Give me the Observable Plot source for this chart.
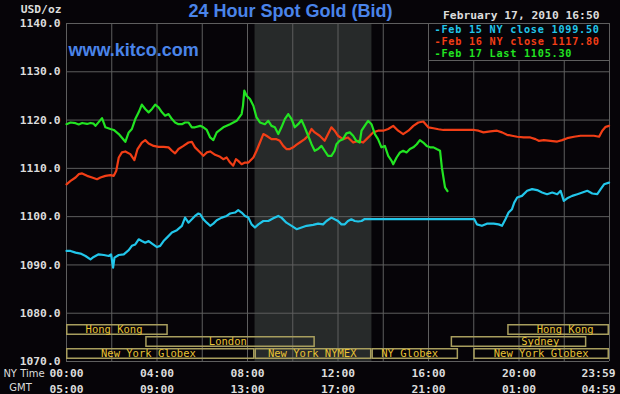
<!DOCTYPE html>
<html><head><meta charset="utf-8">
<script src="https://cdn.jsdelivr.net/npm/d3@7"></script>
<script src="https://cdn.jsdelivr.net/npm/@observablehq/plot@0.6"></script>
<style>
html,body{margin:0;padding:0;background:#060408;}
#wrap{position:relative;width:620px;height:394px;overflow:hidden;}
#wrap svg{position:absolute;left:0;top:0;max-width:none;}
#legend{position:absolute;left:428px;top:24px;width:180px;height:36px;background:#060408;border-left:1px solid #5e5e5e;border-bottom:1px solid #5e5e5e;font:bold 10.2px "DejaVu Sans Mono",monospace;letter-spacing:0.75px;line-height:11px;}
#legend .lg{position:absolute;left:5.5px;white-space:pre;height:11px;line-height:11px;}
</style></head><body><div id="wrap"></div>
<script>
// ---- data ----
const priceTicks = [1070,1080,1090,1100,1110,1120,1130,1140];
const gridHours = [0,2,4,6,8,10,12,14,16,18,20,22,24];
const labelHours = [0,4,8,12,16,20];
const nyLabels = ["00:00","04:00","08:00","12:00","16:00","20:00"];
const gmtLabels = ["05:00","09:00","13:00","17:00","21:00","01:00"];
const endHour = [24];
const endNyLabel = ["23:59"];
const endGmtLabel = ["04:59"];
const nymexHours = [8.333, 13.5];

const seriesNames = ["Feb 15 NY close 1099.50","Feb 16 NY close 1117.80","Feb 17 Last 1105.30"];
const seriesColors = ["#22c6ea","#f23e16","#22e422"];

const feb15 = [[0,1092.9],[0.18,1092.9],[0.40,1092.55],[0.62,1092.35],[0.84,1091.85],[1.06,1091.15],[1.20,1091.65],[1.42,1092.2],[1.65,1092.05],[1.87,1091.85],
[1.97,1092.2],[2.06,1089.45],[2.12,1091.5],[2.31,1092.05],[2.53,1092.2],[2.75,1093.05],[2.89,1093.95],[3.04,1094.25],[3.19,1095.3],[3.33,1094.95],
[3.48,1094.6],[3.63,1094.95],[3.78,1094.4],[4.00,1093.7],[4.14,1093.95],[4.29,1094.95],[4.44,1095.65],[4.66,1096.7],[4.88,1097.2],[5.10,1098.1],
[5.24,1099.8],[5.39,1098.75],[5.54,1099.45],[5.68,1100.15],[5.83,1100.65],[5.91,1100.5],[6.05,1099.45],[6.20,1098.75],[6.35,1098.1],[6.49,1098.55],
[6.64,1099.25],[6.86,1099.8],[7.08,1100.15],[7.23,1100.65],[7.45,1100.85],[7.59,1101.35],[7.74,1100.85],[7.89,1100.15],[8.04,1099.8],[8.18,1098.4],
[8.33,1097.75],[8.48,1098.4],[8.70,1099.1],[8.92,1099.1],[9.14,1099.65],[9.36,1100.15],[9.50,1099.8],[9.72,1098.75],[9.95,1098.1],[10.17,1097.4],
[10.39,1097.75],[10.61,1098.1],[10.90,1098.3],[11.12,1098.55],[11.34,1098.4],[11.49,1099.1],[11.71,1099.8],[11.85,1099.45],[12.00,1099.1],[12.15,1098.4],
[12.30,1098.4],[12.44,1099.1],[12.59,1099.45],[12.74,1099.1],[12.89,1099.0],[13.04,1099.1],[13.18,1099.5],[18.02,1099.5],[18.14,1098.4],[18.36,1098.1],
[18.58,1098.55],[18.88,1098.55],[19.10,1098.4],[19.25,1098.1],[19.40,1099.45],[19.54,1100.85],[19.69,1101.55],[19.79,1102.9],[19.92,1103.95],[20.13,1104.3],
[20.36,1105.35],[20.58,1105.7],[20.80,1105.5],[21.02,1105.0],[21.24,1104.65],[21.47,1105.0],[21.69,1104.65],[21.84,1105.35],[21.98,1103.25],[22.13,1103.8],
[22.35,1104.3],[22.58,1104.65],[22.80,1105.0],[23.02,1105.35],[23.24,1104.8],[23.46,1104.65],[23.61,1105.7],[23.76,1106.7],[23.98,1107.05]];

const feb16 = [[0,1106.7],[0.18,1107.4],[0.40,1108.1],[0.54,1108.8],[0.69,1108.95],[0.91,1108.45],[1.13,1108.1],[1.35,1107.75],[1.50,1108.1],[1.72,1108.45],
[1.94,1108.6],[2.09,1108.45],[2.20,1109.5],[2.31,1112.25],[2.45,1113.3],[2.60,1113.5],[2.82,1112.95],[3.00,1111.7],[3.14,1114.0],[3.33,1115.35],
[3.48,1115.85],[3.63,1115.15],[3.85,1114.65],[4.07,1114.45],[4.29,1114.45],[4.51,1114.35],[4.66,1113.65],[4.80,1113.1],[4.95,1114.0],[5.17,1114.65],
[5.39,1115.35],[5.54,1115.5],[5.68,1114.35],[5.91,1113.3],[6.05,1112.6],[6.20,1113.3],[6.35,1113.5],[6.57,1112.8],[6.79,1112.4],[6.93,1111.9],
[7.08,1112.25],[7.23,1111.2],[7.37,1110.55],[7.49,1111.9],[7.59,1111.55],[7.74,1110.85],[7.89,1111.2],[8.04,1111.2],[8.26,1112.25],[8.40,1113.65],
[8.55,1115.35],[8.70,1117.1],[8.84,1116.75],[9.06,1116.05],[9.28,1116.05],[9.43,1115.7],[9.58,1114.65],[9.72,1114.0],[9.87,1114.0],[10.02,1114.35],
[10.17,1114.9],[10.31,1115.35],[10.53,1116.05],[10.68,1116.75],[10.83,1118.15],[10.97,1117.45],[11.19,1116.75],[11.41,1115.7],[11.56,1117.1],[11.71,1118.5],
[11.85,1117.8],[12.00,1116.75],[12.22,1116.05],[12.44,1116.4],[12.67,1115.35],[12.89,1115.7],[13.11,1115.35],[13.26,1116.05],[13.41,1116.75],[13.55,1117.45],
[13.77,1117.8],[14.00,1117.8],[14.22,1118.15],[14.44,1118.8],[14.66,1117.8],[14.88,1117.1],[15.11,1117.8],[15.33,1118.8],[15.55,1119.5],[15.77,1119.7],
[15.99,1118.5],[16.22,1118.3],[16.44,1118.1],[16.66,1117.95],[18.02,1117.95],[18.21,1117.8],[18.43,1117.45],[18.73,1117.65],[19.03,1117.8],[19.25,1117.45],
[19.47,1116.95],[19.69,1116.75],[19.92,1116.55],[20.21,1116.4],[20.50,1116.4],[20.73,1116.05],[20.87,1115.7],[21.10,1115.85],[21.39,1115.7],[21.69,1115.55],
[21.91,1115.85],[22.13,1116.25],[22.43,1116.55],[22.72,1116.75],[23.02,1116.75],[23.31,1116.75],[23.54,1116.55],[23.68,1117.8],[23.83,1118.6],[23.98,1118.8]];

const feb17 = [[0,1119.15],[0.18,1119.5],[0.40,1119.35],[0.54,1119.1],[0.69,1119.4],[0.91,1119.2],[1.06,1119.4],[1.20,1119.25],[1.28,1118.8],[1.57,1120.4],
[1.72,1118.5],[1.94,1118.15],[2.09,1117.95],[2.31,1117.1],[2.60,1115.5],[2.75,1117.45],[2.89,1118.15],[3.04,1120.2],[3.19,1121.6],[3.33,1123.2],
[3.48,1122.3],[3.63,1121.6],[3.78,1122.3],[3.92,1123.2],[4.07,1122.65],[4.22,1121.6],[4.36,1120.9],[4.51,1121.25],[4.66,1120.2],[4.80,1119.5],
[4.95,1119.15],[5.10,1119.15],[5.24,1119.5],[5.39,1119.5],[5.54,1118.5],[5.68,1118.5],[5.91,1118.8],[6.05,1118.5],[6.20,1117.95],[6.35,1116.4],
[6.49,1115.85],[6.64,1117.45],[6.93,1118.5],[7.23,1119.15],[7.52,1119.85],[7.74,1121.25],[7.80,1122.95],[7.86,1126.1],[7.96,1125.05],[8.11,1124.35],
[8.26,1122.95],[8.40,1120.55],[8.55,1119.5],[8.77,1119.15],[8.92,1119.85],[9.06,1118.8],[9.21,1118.5],[9.36,1117.1],[9.50,1118.5],[9.65,1120.2],
[9.80,1121.25],[9.95,1120.2],[10.09,1118.5],[10.24,1119.15],[10.39,1120.0],[10.53,1118.5],[10.68,1116.75],[10.83,1115.0],[10.97,1113.65],[11.12,1114.0],
[11.27,1114.65],[11.41,1113.65],[11.56,1112.6],[11.71,1112.6],[11.85,1113.65],[11.93,1115.0],[12.07,1115.7],[12.22,1116.05],[12.37,1117.25],[12.52,1117.45],
[12.67,1116.75],[12.81,1115.7],[12.96,1115.35],[13.04,1117.8],[13.18,1118.8],[13.33,1119.85],[13.48,1119.15],[13.63,1117.1],[13.77,1116.05],[13.92,1114.35],
[14.07,1114.65],[14.22,1112.6],[14.37,1111.55],[14.44,1110.85],[14.59,1112.25],[14.74,1113.3],[14.88,1113.65],[15.03,1113.3],[15.18,1114.0],[15.33,1114.35],
[15.48,1115.0],[15.62,1115.85],[15.77,1115.35],[15.92,1114.65],[16.07,1114.35],[16.22,1114.35],[16.36,1114.0],[16.51,1113.65],[16.59,1110.2],[16.66,1108.1],
[16.73,1106.05],[16.84,1105.3]];

const sessionNames = ["Hong Kong","London","New York Globex","New York NYMEX","NY Globex","New York Globex","Sydney","Hong Kong"];
const sessionStart = [0, 3.5, 0, 8.333, 13.5, 18, 17, 19.5];
const sessionEnd   = [4.5, 11, 8.333, 13.5, 17.33, 24, 23, 24];
const sessionRow   = [0, 1, 2, 2, 2, 2, 1, 0];
const sessionLabelAt = [2.1, 7.13, 3.62, 10.86, 15.17, 20.98, 20.94, 22.04];

// ---- layout ----
const W = 620, H = 394;
const M = {marginTop: 23, marginRight: 11, marginBottom: 33, marginLeft: 66};
const BG = "#060408", GRID = "#5e5e5e", TXT = "#dcdcdc";
const MONO = "'DejaVu Sans Mono', monospace";
const pt = d => d[0], pv = d => d[1];
const sessions = sessionNames.map((name, i) => ({name, start: sessionStart[i], end: sessionEnd[i], row: sessionRow[i], labelAt: sessionLabelAt[i]}));

const main = Plot.plot({
  width: W, height: H, ...M,
  style: {background: BG, color: TXT, fontFamily: MONO, fontSize: "11.3px", fontWeight: "bold"},
  x: {domain: [0, 24], axis: null},
  y: {domain: [1070, 1140], ticks: priceTicks, tickFormat: d3.format(".1f"), tickSize: 0, tickPadding: 6, label: null},
  marks: [
    Plot.rect([nymexHours], {x1: d => d[0], x2: d => d[1], fill: "#272a2a"}),
    Plot.ruleX(gridHours, {stroke: GRID, strokeWidth: 1}),
    Plot.ruleY(priceTicks, {stroke: GRID, strokeWidth: 1}),
    Plot.line(feb15, {x: pt, y: pv, stroke: seriesColors[0], strokeWidth: 2.2}),
    Plot.line(feb16, {x: pt, y: pv, stroke: seriesColors[1], strokeWidth: 2.2}),
    Plot.line(feb17, {x: pt, y: pv, stroke: seriesColors[2], strokeWidth: 2.2}),
    Plot.text(["www.kitco.com"], {text: d => d, frameAnchor: "top-left", textAnchor: "start", lineAnchor: "bottom", dx: 2, dy: 32, fill: "#4a84ea", fontFamily: "'Liberation Sans', Arial, sans-serif", fontSize: 18, fontWeight: "bold"}),
    Plot.text(["24 Hour Spot Gold (Bid)"], {text: d => d, frameAnchor: "top-left", textAnchor: "middle", lineAnchor: "bottom", dx: 224, dy: -7, fill: "#4a84ea", fontFamily: "'Liberation Sans', Arial, sans-serif", fontSize: 18, fontWeight: "bold"}),
    Plot.text(["USD/oz"], {text: d => d, frameAnchor: "top-left", textAnchor: "end", lineAnchor: "bottom", dx: -5, dy: -11, fill: TXT}),
    Plot.text(["February 17, 2010 16:50"], {text: d => d, frameAnchor: "top-right", textAnchor: "end", lineAnchor: "bottom", dx: -10, dy: -5, fill: TXT}),
    Plot.text(labelHours, {x: d => d, text: (d, i) => nyLabels[i], frameAnchor: "bottom", lineAnchor: "bottom", dy: 15, fill: TXT}),
    Plot.text(labelHours, {x: d => d, text: (d, i) => gmtLabels[i], frameAnchor: "bottom", lineAnchor: "bottom", dy: 31, fill: TXT}),
    Plot.text(endHour, {x: d => d, text: (d, i) => endNyLabel[i], frameAnchor: "bottom", textAnchor: "end", lineAnchor: "bottom", dx: 6, dy: 15, fill: TXT}),
    Plot.text(endHour, {x: d => d, text: (d, i) => endGmtLabel[i], frameAnchor: "bottom", textAnchor: "end", lineAnchor: "bottom", dx: 6, dy: 31, fill: TXT}),
    Plot.text(["NY Time"], {text: d => d, frameAnchor: "bottom-left", textAnchor: "middle", lineAnchor: "bottom", dx: -42.5, dy: 15, fill: TXT, fontFamily: "'DejaVu Sans', sans-serif", fontSize: 10, fontWeight: "normal"}),
    Plot.text(["GMT"], {text: d => d, frameAnchor: "bottom-left", textAnchor: "middle", lineAnchor: "bottom", dx: -46, dy: 29, fill: TXT, fontFamily: "'DejaVu Sans', sans-serif", fontSize: 10, fontWeight: "normal"})
  ]
});

const sess = Plot.plot({
  width: W, height: H, ...M,
  style: {background: "transparent", fontFamily: MONO, fontSize: "10.5px"},
  x: {domain: [0, 24], axis: null},
  y: {type: "band", domain: [0, 1, 2], range: [323, 361], paddingInner: 0.05, paddingOuter: 0, axis: null},
  marks: [
    Plot.barX(sessions, {x1: "start", x2: "end", y: "row", fill: "none", stroke: "#a89e5e", strokeWidth: 1.5, inset: 0.75}),
    Plot.text(sessions, {x: "labelAt", y: "row", text: "name", fill: "#e8c234", lineAnchor: "middle"})
  ]
});

const wrap = document.getElementById("wrap");
wrap.appendChild(main);
wrap.appendChild(sess);

const legend = document.createElement("div");
legend.id = "legend";
const rowTops = [0, 12, 24];
seriesNames.forEach((name, i) => {
  const s = document.createElement("span");
  s.className = "lg";
  s.style.top = rowTops[i] + "px";
  s.style.color = seriesColors[i];
  s.textContent = "-" + name;
  legend.appendChild(s);
});
wrap.appendChild(legend);
</script></body></html>
